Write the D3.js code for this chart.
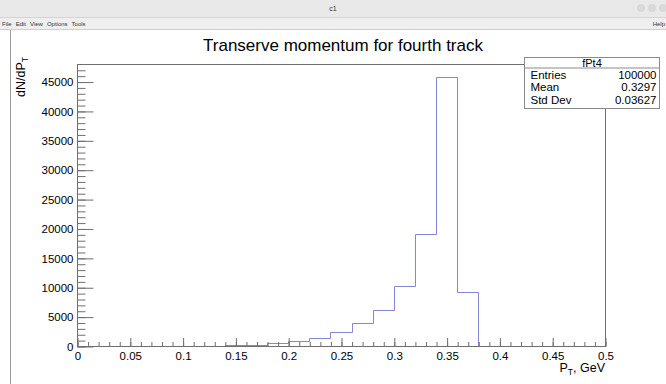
<!DOCTYPE html>
<html>
<head>
<meta charset="utf-8">
<script src="https://cdn.jsdelivr.net/npm/d3@7"></script>
<style>
  html, body { margin: 0; padding: 0; background: #fff; }
  svg { display: block; font-family: "Liberation Sans", Arial, Helvetica, sans-serif; }
</style>
</head>
<body>
<script>
// Histogram fPt4: lower bin edges (width 0.02) and bin contents
const binStarts = [0.00, 0.02, 0.04, 0.06, 0.08, 0.10, 0.12, 0.14, 0.16, 0.18,
                   0.20, 0.22, 0.24, 0.26, 0.28, 0.30, 0.32, 0.34, 0.36, 0.38,
                   0.40, 0.42, 0.44, 0.46, 0.48];
const binWidth = 0.02;
const counts = [0, 0, 0, 0, 0, 0, 30, 120, 170, 510,
                810, 1440, 2370, 3890, 6135, 10220, 19000, 45700, 9180, 5,
                0, 0, 0, 0, 0];

// Axis tick labels
const xTicks = [0, 0.05, 0.1, 0.15, 0.2, 0.25, 0.3, 0.35, 0.4, 0.45, 0.5];
const yTicks = [0, 5000, 10000, 15000, 20000, 25000, 30000, 35000, 40000, 45000];

// Statistics box
const statsTitle = "fPt4";
const statsRows = [["Entries", "100000"], ["Mean", "0.3297"], ["Std Dev", "0.03627"]];

const chartTitle = "Transerve momentum for fourth track";
const menuItems = ["File", "Edit", "View", "Options", "Tools"];

const W = 666, H = 384;
const frame = { left: 77, right: 605, top: 64, bottom: 346 };

const svg = d3.select("body").append("svg").attr("width", W).attr("height", H);

// ---- window chrome ----
svg.append("rect").attr("x", 0).attr("y", 0).attr("width", W).attr("height", 17).attr("fill", "#e9e9e9");
svg.append("text").attr("x", 333).attr("y", 11).attr("text-anchor", "middle")
  .attr("font-size", 7).attr("fill", "#333").text("c1");
[641, 652, 663].forEach(cx => {
  svg.append("circle").attr("cx", cx).attr("cy", 8).attr("r", 4).attr("fill", "#d9d9d9");
});
svg.append("rect").attr("x", 0).attr("y", 17).attr("width", W).attr("height", 13).attr("fill", "#efefef");
svg.append("line").attr("x1", 0).attr("x2", W).attr("y1", 17.5).attr("y2", 17.5).attr("stroke", "#d4d4d4");
svg.append("line").attr("x1", 0).attr("x2", W).attr("y1", 29.5).attr("y2", 29.5).attr("stroke", "#cfcfcf");
let mx = 2;
menuItems.forEach(m => {
  const t = svg.append("text").attr("x", mx).attr("y", 26).attr("font-size", 6).attr("fill", "#333").text(m);
  mx += t.node().getComputedTextLength() + 4;
});
svg.append("text").attr("x", 665).attr("y", 26).attr("text-anchor", "end")
  .attr("font-size", 6).attr("fill", "#333").text("Help");
svg.append("line").attr("x1", 10.5).attr("x2", 10.5).attr("y1", 30).attr("y2", H).attr("stroke", "#9a9a9a");

// ---- scales ----
const x = d3.scaleLinear().domain([0, 0.5]).range([frame.left, frame.right]);
const yMax = d3.max(counts) * 1.05;
const y = d3.scaleLinear().domain([0, yMax]).range([frame.bottom, frame.top]);

const axisColor = "#6f6f6f";

// ---- histogram outline (drawn first so the frame sits on top of empty bins) ----
const pts = [];
binStarts.forEach((b, i) => {
  pts.push([b, counts[i]]);
  pts.push([b + binWidth, counts[i]]);
});
svg.append("path")
  .datum(pts)
  .attr("fill", "none")
  .attr("stroke", "#8585dc")
  .attr("stroke-width", 1)
  .attr("d", d3.line().x(d => Math.round(x(d[0])) + 0.5).y(d => Math.round(y(d[1])) + 0.5));

// ---- frame ----
svg.append("rect")
  .attr("x", frame.left + 0.5).attr("y", frame.top + 0.5)
  .attr("width", frame.right - frame.left).attr("height", frame.bottom - frame.top)
  .attr("fill", "none").attr("stroke", axisColor);

// ---- axes ----
const xAxis = d3.axisBottom(x).tickValues(xTicks).tickFormat(d3.format("~g"))
  .tickSize(-8.5).tickPadding(5);
svg.append("g").attr("class", "xaxis").attr("transform", `translate(0.5,${frame.bottom + 0.5})`).call(xAxis);
const xMinor = d3.axisBottom(x).tickValues(d3.range(0, 0.5001, 0.01)).tickFormat("").tickSize(-4.5);
svg.append("g").attr("class", "minor").attr("transform", `translate(0.5,${frame.bottom + 0.5})`).call(xMinor);

const yAxis = d3.axisLeft(y).tickValues(yTicks).tickFormat(d3.format("d"))
  .tickSize(-16).tickPadding(4);
svg.append("g").attr("class", "yaxis").attr("transform", `translate(${frame.left + 0.5},0.5)`).call(yAxis);
const yMinor = d3.axisLeft(y).tickValues(d3.range(0, yMax, 1000)).tickFormat("").tickSize(-8);
svg.append("g").attr("class", "minor").attr("transform", `translate(${frame.left + 0.5},0.5)`).call(yMinor);

svg.selectAll(".domain").remove();
svg.selectAll(".minor text").remove();
svg.selectAll(".tick line").attr("stroke", axisColor);
svg.selectAll(".tick text").attr("fill", "#000").attr("font-size", 11.5)
  .attr("font-family", "'Liberation Sans', Arial, sans-serif");

// ---- titles ----
svg.append("text").attr("x", 343).attr("y", 51).attr("text-anchor", "middle")
  .attr("font-size", 17).attr("fill", "#000").text(chartTitle);

const xt = svg.append("text").attr("x", frame.right).attr("y", 372).attr("text-anchor", "end")
  .attr("font-size", 12.5).attr("fill", "#000");
xt.append("tspan").text("P");
xt.append("tspan").attr("font-size", 8.5).attr("dy", 3).text("T");
xt.append("tspan").attr("dy", -3).text(", GeV");

const yt = svg.append("text").attr("transform", `translate(25,57) rotate(-90)`).attr("text-anchor", "end")
  .attr("font-size", 12.5).attr("fill", "#000");
yt.append("tspan").text("dN/dP");
yt.append("tspan").attr("font-size", 8.5).attr("dy", 3).text("T");

// ---- statistics box ----
const box = { x: 524.5, y: 57.5, w: 135, h: 51, titleH: 10.5 };
svg.append("rect").attr("x", box.x).attr("y", box.y).attr("width", box.w).attr("height", box.h)
  .attr("fill", "#fff").attr("stroke", "#8a8a8a");
svg.append("line").attr("x1", box.x).attr("x2", box.x + box.w)
  .attr("y1", box.y + box.titleH).attr("y2", box.y + box.titleH).attr("stroke", "#8a8a8a");
svg.append("text").attr("x", box.x + box.w / 2).attr("y", box.y + 9.5).attr("text-anchor", "middle")
  .attr("font-size", 11).attr("fill", "#000").text(statsTitle);
statsRows.forEach((r, i) => {
  const yy = box.y + box.titleH + 10.5 + i * 12.5;
  svg.append("text").attr("x", box.x + 6).attr("y", yy).attr("font-size", 11.5).attr("fill", "#000").text(r[0]);
  svg.append("text").attr("x", box.x + box.w - 3).attr("y", yy).attr("text-anchor", "end")
    .attr("font-size", 11.5).attr("fill", "#000").text(r[1]);
});
</script>
</body>
</html>
